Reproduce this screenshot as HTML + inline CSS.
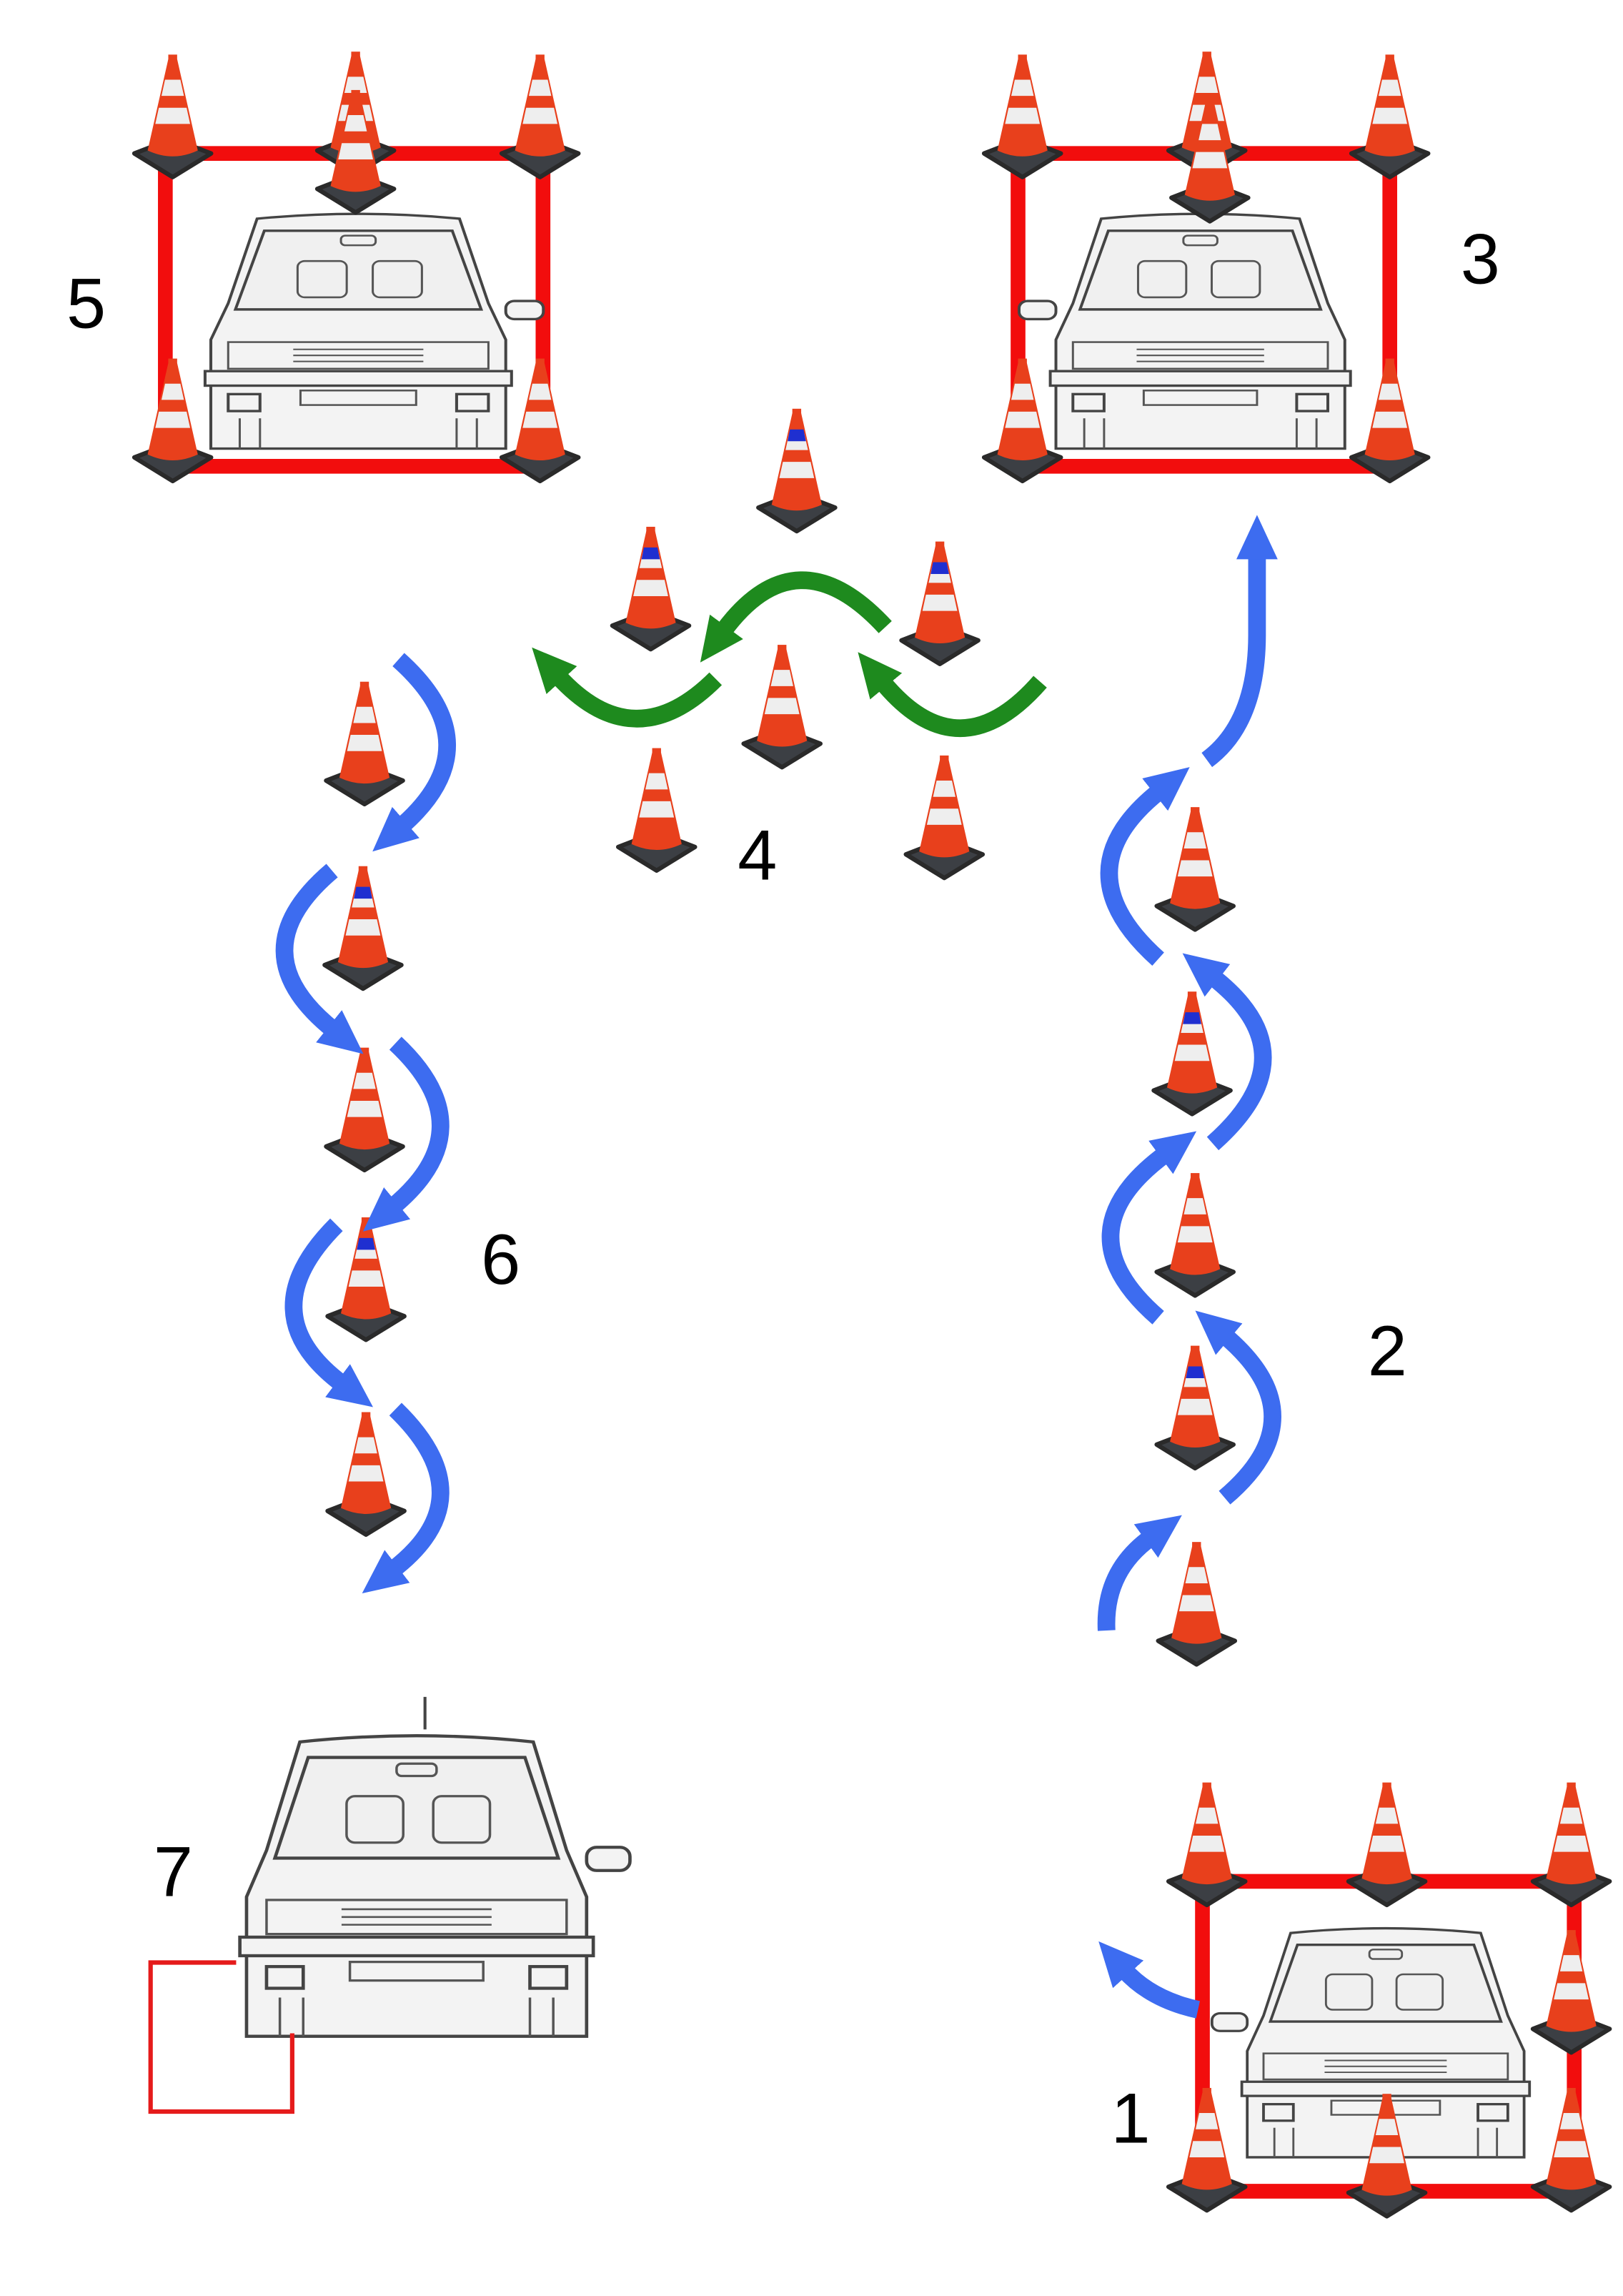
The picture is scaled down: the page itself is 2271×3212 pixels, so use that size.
<!DOCTYPE html>
<html><head><meta charset="utf-8"><style>
html,body{margin:0;padding:0;background:#fff;}
svg{display:block;}
text{font-family:"Liberation Sans",sans-serif;fill:#000;}
</style></head><body>
<svg width="2271" height="3212" viewBox="0 0 1100 1556" xmlns="http://www.w3.org/2000/svg">
<defs>
<g id="cone">
  <path d="M-26,-8 L0,-18 L26,-8 L0,8 Z" fill="#3c3f44" stroke="#2a2a2a" stroke-width="3" stroke-linejoin="round"/>
  <path d="M-3,-72 L3,-72 L17,-10 Q0,-2 -17,-10 Z" fill="#e8401c"/>
  <path d="M-5.2,-58 L5.2,-58 L7.6,-47 L-7.6,-47 Z" fill="#eeeeee"/>
  <path d="M-9.4,-39 L9.4,-39 L11.8,-28 L-11.8,-28 Z" fill="#eeeeee"/>
  <rect x="-3" y="-75" width="6" height="4" fill="#e8401c"/>
</g>
<g id="bcone">
  <use href="#cone"/>
  <path d="M-4.6,-61 L4.6,-61 L6.2,-53 L-6.2,-53 Z" fill="#1f2fd0"/>
</g>
<g id="car">
  <path d="M40 10 Q110 2 180 10 L200 80 L212 110 L212 200 L8 200 L8 110 L20 80 Z" fill="#f3f3f3" stroke="#444" stroke-width="2"/>
  <path d="M45 20 L175 20 L195 85 L25 85 Z" fill="#f0f0f0" stroke="#444" stroke-width="2"/>
  <rect x="68" y="45" width="34" height="30" rx="5" fill="none" stroke="#555" stroke-width="1.5"/>
  <rect x="120" y="45" width="34" height="30" rx="5" fill="none" stroke="#555" stroke-width="1.5"/>
  <rect x="98" y="24" width="24" height="8" rx="3" fill="none" stroke="#555" stroke-width="1.5"/>
  <rect x="212" y="78" width="26" height="15" rx="6" fill="#f3f3f3" stroke="#444" stroke-width="2"/>
  <rect x="20" y="112" width="180" height="22" fill="none" stroke="#555" stroke-width="1.5"/>
  <line x1="65" y1="118" x2="155" y2="118" stroke="#555" stroke-width="1.2"/>
  <line x1="65" y1="123" x2="155" y2="123" stroke="#555" stroke-width="1.2"/>
  <line x1="65" y1="128" x2="155" y2="128" stroke="#555" stroke-width="1.2"/>
  <rect x="4" y="136" width="212" height="12" fill="#f3f3f3" stroke="#444" stroke-width="2"/>
  <rect x="20" y="155" width="22" height="14" fill="none" stroke="#444" stroke-width="2"/>
  <rect x="178" y="155" width="22" height="14" fill="none" stroke="#444" stroke-width="2"/>
  <rect x="70" y="152" width="80" height="12" fill="none" stroke="#555" stroke-width="1.5"/>
  <line x1="28" y1="175" x2="28" y2="200" stroke="#555" stroke-width="1.5"/>
  <line x1="42" y1="175" x2="42" y2="200" stroke="#555" stroke-width="1.5"/>
  <line x1="178" y1="175" x2="178" y2="200" stroke="#555" stroke-width="1.5"/>
  <line x1="192" y1="175" x2="192" y2="200" stroke="#555" stroke-width="1.5"/>
</g>
<marker id="bh" markerUnits="userSpaceOnUse" markerWidth="34" markerHeight="34" refX="4" refY="17" orient="auto" viewBox="0 0 34 34">
  <path d="M0,3 L30,17 L0,31 Z" fill="#3d6cf0"/>
</marker>
<marker id="gh" markerUnits="userSpaceOnUse" markerWidth="34" markerHeight="34" refX="4" refY="17" orient="auto" viewBox="0 0 34 34">
  <path d="M0,3 L30,17 L0,31 Z" fill="#1e8a1e"/>
</marker>
</defs>

<!-- Box 5 -->
<rect x="112" y="104" width="256" height="212" fill="none" stroke="#f20d0d" stroke-width="10"/>
<g transform="translate(135,140) scale(0.98,0.82)"><use href="#car"/></g>
<use href="#cone" x="117" y="112"/><use href="#cone" x="241" y="110"/><use href="#cone" x="366" y="112"/><use href="#cone" x="241" y="136"/>
<use href="#cone" x="117" y="318"/><use href="#cone" x="366" y="318"/>
<text x="45" y="222" font-size="48">5</text>

<!-- Box 3 -->
<rect x="690" y="104" width="252" height="212" fill="none" stroke="#f20d0d" stroke-width="10"/>
<g transform="translate(708,140) scale(0.96,0.82) translate(220,0) scale(-1,1)"><use href="#car"/></g>
<use href="#cone" x="693" y="112"/><use href="#cone" x="818" y="110"/><use href="#cone" x="942" y="112"/><use href="#cone" x="820" y="142"/>
<use href="#cone" x="693" y="318"/><use href="#cone" x="942" y="318"/>
<text x="990" y="192" font-size="48">3</text>

<!-- Middle cones -->
<use href="#bcone" x="540" y="352"/><use href="#bcone" x="441" y="432"/><use href="#bcone" x="637" y="442"/>
<use href="#cone" x="530" y="512"/><use href="#cone" x="445" y="582"/><use href="#cone" x="640" y="587"/>
<text x="500" y="596" font-size="48">4</text>
<path d="M600,425 Q540,360 490,428" fill="none" stroke="#1e8a1e" stroke-width="12" marker-end="url(#gh)"/>
<path d="M485,460 Q430,515 378,458" fill="none" stroke="#1e8a1e" stroke-width="12" marker-end="url(#gh)"/>
<path d="M705,462 Q650,525 598,462" fill="none" stroke="#1e8a1e" stroke-width="12" marker-end="url(#gh)"/>

<!-- Left column -->
<use href="#cone" x="247" y="537"/><use href="#bcone" x="246" y="662"/><use href="#cone" x="247" y="785"/><use href="#bcone" x="248" y="900"/><use href="#cone" x="248" y="1032"/>
<text x="326" y="870" font-size="48">6</text>
<path d="M270,447 Q335,505 272,560" fill="none" stroke="#3d6cf0" stroke-width="12" marker-end="url(#bh)"/>
<path d="M225,590 Q160,645 226,698" fill="none" stroke="#3d6cf0" stroke-width="12" marker-end="url(#bh)"/>
<path d="M268,707 Q330,765 266,818" fill="none" stroke="#3d6cf0" stroke-width="12" marker-end="url(#bh)"/>
<path d="M228,830 Q168,890 232,938" fill="none" stroke="#3d6cf0" stroke-width="12" marker-end="url(#bh)"/>
<path d="M268,955 Q330,1015 266,1064" fill="none" stroke="#3d6cf0" stroke-width="12" marker-end="url(#bh)"/>

<!-- Right column -->
<use href="#cone" x="810" y="622"/><use href="#bcone" x="808" y="747"/><use href="#cone" x="810" y="870"/><use href="#bcone" x="810" y="987"/><use href="#cone" x="811" y="1120"/>
<text x="927" y="932" font-size="48">2</text>
<path d="M750,1105 Q748,1065 780,1042" fill="none" stroke="#3d6cf0" stroke-width="12" marker-end="url(#bh)"/>
<path d="M830,1015 Q895,960 830,905" fill="none" stroke="#3d6cf0" stroke-width="12" marker-end="url(#bh)"/>
<path d="M785,893 Q718,835 790,782" fill="none" stroke="#3d6cf0" stroke-width="12" marker-end="url(#bh)"/>
<path d="M822,775 Q890,715 822,662" fill="none" stroke="#3d6cf0" stroke-width="12" marker-end="url(#bh)"/>
<path d="M785,650 Q718,590 786,536" fill="none" stroke="#3d6cf0" stroke-width="12" marker-end="url(#bh)"/>
<path d="M818,515 Q852,490 852,430 L852,375" fill="none" stroke="#3d6cf0" stroke-width="12" marker-end="url(#bh)"/>

<!-- Box 1 -->
<rect x="815" y="1275" width="252" height="210" fill="none" stroke="#f20d0d" stroke-width="10"/>
<g transform="translate(838,1302) scale(0.92,0.8) translate(220,0) scale(-1,1)"><use href="#car"/></g>
<use href="#cone" x="818" y="1283"/><use href="#cone" x="940" y="1283"/><use href="#cone" x="1065" y="1283"/><use href="#cone" x="1065" y="1383"/>
<use href="#cone" x="818" y="1490"/><use href="#cone" x="940" y="1494"/><use href="#cone" x="1065" y="1490"/>
<text x="753" y="1452" font-size="48">1</text>
<path d="M812,1362 Q780,1355 762,1335" fill="none" stroke="#3d6cf0" stroke-width="12" marker-end="url(#bh)"/>

<!-- Car 7 -->
<line x1="288" y1="1150" x2="288" y2="1172" stroke="#444" stroke-width="2"/>
<g transform="translate(158,1170) scale(1.13,1.05)"><use href="#car"/></g>
<path d="M160,1330 L102,1330 L102,1431 L198,1431 L198,1378" fill="none" stroke="#e51b1b" stroke-width="3"/>
<text x="104" y="1285" font-size="48">7</text>
</svg>
</body></html>
